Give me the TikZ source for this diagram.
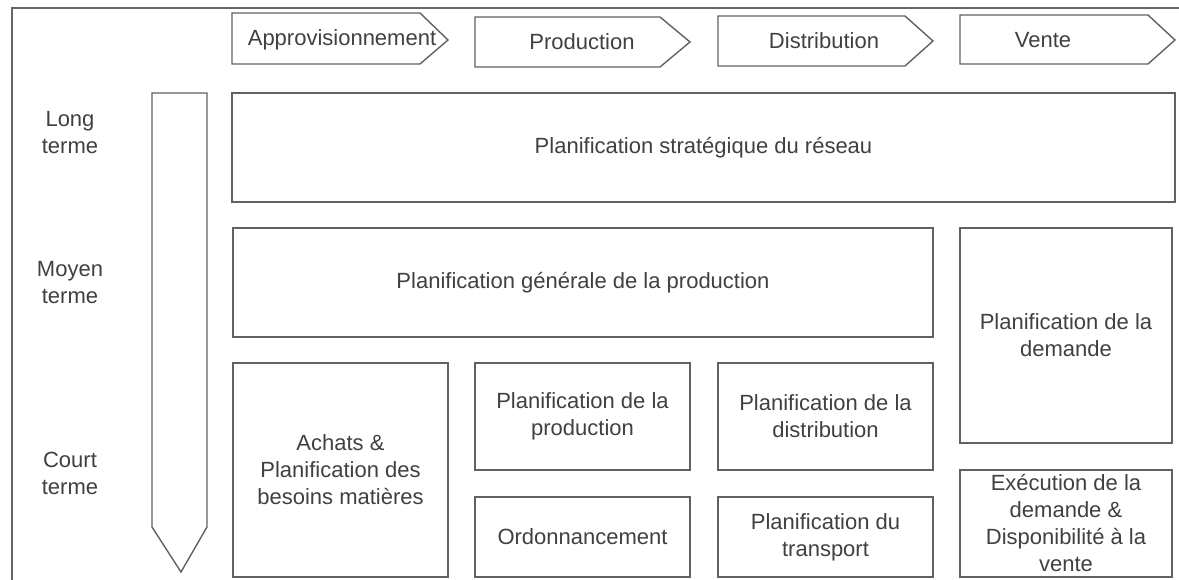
\documentclass[tikz,border=0pt]{standalone}
\usepackage{fontspec}
\setmainfont{Liberation Sans}
\begin{document}
\begin{tikzpicture}[x=1pt,y=-1pt,
  line/.style={draw=black!62,line width=1.4pt,line join=miter},
  lbl/.style={text=black!75,font=\fontsize{22}{27}\selectfont,align=center,inner sep=0pt},
  planbox/.style 2 args={line,lbl,rectangle,minimum width=#1,minimum height=#2}]
\useasboundingbox (0,0) rectangle (1179,580);
\begin{scope}
\clip (0,0) rectangle (1179,580);
% outer frame
\draw[draw=black!60,line width=2pt] (12,8) rectangle (1190,590);
\end{scope}

% process chevrons along the top
\draw[line] (232,13) -- (420,13) -- (448,40) -- (420,64) -- (232,64) -- cycle;
\draw[line] (475,17) -- (660,17) -- (690,42) -- (660,67) -- (475,67) -- cycle;
\draw[line] (718,16) -- (905,16) -- (933,41) -- (905,66) -- (718,66) -- cycle;
\draw[line] (960,15) -- (1148,15) -- (1175,40) -- (1148,64) -- (960,64) -- cycle;
\node[lbl] (appro) at (342,40) {Approvisionnement};
\node[lbl] (prod) at (582,42) {Production};
\node[lbl] (dist) at (824,41) {Distribution};
\node[lbl] (vente) at (1043,40) {Vente};

% time horizon arrow
\draw[line] (152,93) -- (207,93) -- (207,527) -- (181,572) -- (152,527) -- cycle;
\node[lbl] (long) at (70,133) {Long\\terme};
\node[lbl] (moyen) at (70,283) {Moyen\\terme};
\node[lbl] (court) at (70,473) {Court\\terme};

% planning modules
\node[planbox={943pt}{109pt}] (strat) at (703.5,147.5) {Planification stratégique du réseau};
\node[planbox={700pt}{109pt}] (gen) at (583,282.5) {Planification générale de la production};
\node[planbox={212pt}{215pt}] (dem) at (1066,335.5) {Planification de la\\demande};
\node[planbox={215pt}{214pt}] (ach) at (340.5,470) {Achats \&\\Planification des\\besoins matières};
\node[planbox={215pt}{107pt}] (pprod) at (582.5,416.5) {Planification de la\\production};
\node[planbox={215pt}{80pt}] (ordo) at (582.5,537) {Ordonnancement};
\node[planbox={215pt}{107pt}] (pdist) at (825.5,416.5) {Planification de la\\distribution};
\node[planbox={215pt}{80pt}] (ptrans) at (825.5,537) {Planification du\\transport};
\node[planbox={212pt}{107pt}] (exec) at (1066,523.5) {Exécution de la\\demande \&\\Disponibilité à la\\vente};
\end{tikzpicture}
\end{document}
